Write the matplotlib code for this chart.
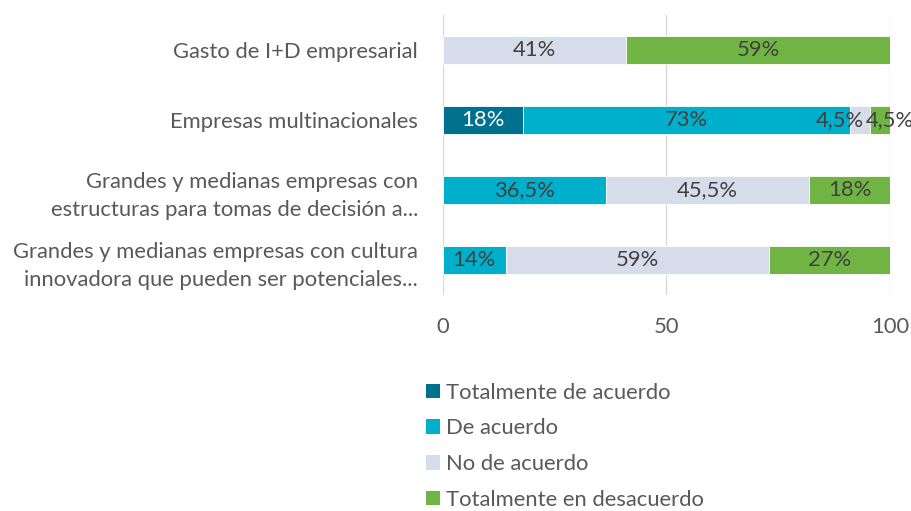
import numpy as np
import matplotlib
matplotlib.use("Agg")
from matplotlib import pyplot as plt
from matplotlib.patches import Patch

plt.rcParams['font.family'] = ['Lato', 'DejaVu Sans']

categories = ["Gasto de I+D empresarial",
              "Empresas multinacionales",
              "Grandes y medianas empresas con\nestructuras para tomas de decisión a...",
              "Grandes y medianas empresas con cultura\ninnovadora que pueden ser potenciales..."]
series_names = ["Totalmente de acuerdo", "De acuerdo", "No de acuerdo", "Totalmente en desacuerdo"]
totalmente_acuerdo = [0, 18, 0, 0]
de_acuerdo = [0, 73, 36.5, 14]
no_acuerdo = [41, 4.5, 45.5, 59]
totalmente_desacuerdo = [59, 4.5, 18, 27]
xticks = [0, 50, 100]

colors = ["#00708F", "#00AFCB", "#D6DCE9", "#70B544"]
text_colors = ["white", "#404040", "#404040", "#404040"]

series = [totalmente_acuerdo, de_acuerdo, no_acuerdo, totalmente_desacuerdo]
fs = 15.8

fig = plt.figure(figsize=(9.12, 5.11), dpi=100)
ax = fig.add_axes([0.4857, 0.4227, 0.49, 0.548])

y = np.arange(len(categories))
left = np.zeros(len(categories))
for s, (vals, col, tc) in enumerate(zip(series, colors, text_colors)):
    vals = np.array(vals, dtype=float)
    ax.barh(y, vals, left=left, height=0.4, color=col, edgecolor="white", linewidth=0.6, zorder=2)
    for i, v in enumerate(vals):
        if v <= 0:
            continue
        lab = ("%g%%" % v).replace(".", ",")
        cx = left[i] + v / 2
        dx = 0
        # small segments: labels pushed apart like the original
        if v < 6:
            dx = -14.5 if s == 2 else 7
        ax.annotate(lab, (cx, y[i]), xytext=(dx, 0), textcoords="offset points",
                    ha="center", va="center", color=tc, fontsize=fs, zorder=3)
    left += vals

ax.set_ylim(len(categories) - 0.5, -0.5)
ax.set_xlim(0, 100)
ax.set_yticks(y)
ax.set_yticklabels(categories, fontsize=fs, color="#595959", linespacing=1.5)
ax.set_xticks(xticks)
ax.set_xticklabels([str(t) for t in xticks], fontsize=fs, color="#595959")
ax.tick_params(length=0, pad=16)
ax.tick_params(axis="y", pad=18)
ax.grid(axis="x", color="#D9D9D9", linewidth=1, zorder=0)
for sp in ax.spines.values():
    sp.set_visible(False)

handles = [Patch(facecolor=c, label=n) for c, n in zip(colors, series_names)]
fig.legend(handles=handles, loc="upper left", bbox_to_anchor=(0.457, 0.268), frameon=False,
           fontsize=fs, labelcolor="#595959", handlelength=0.65, handleheight=0.65,
           handletextpad=0.3, labelspacing=0.71, borderaxespad=0)

fig.savefig("out.png", dpi=100)
